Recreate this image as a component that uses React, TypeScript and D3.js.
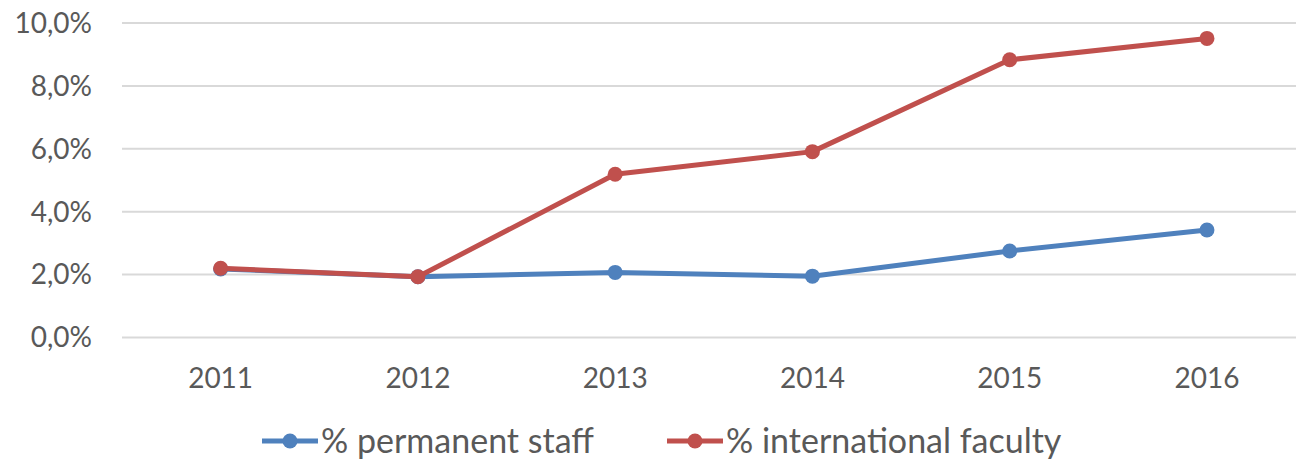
import { useEffect, useRef } from "react";
import * as d3 from "d3";

// Data
const years = ["2011", "2012", "2013", "2014", "2015", "2016"];
const permanentStaff = [2.18, 1.93, 2.07, 1.95, 2.75, 3.42];
const internationalFaculty = [2.2, 1.93, 5.19, 5.91, 8.83, 9.51];
const yTicks = [0, 2, 4, 6, 8, 10];

const seriesNames = ["% permanent staff", "% international faculty"];
const seriesColors = ["#4F81BD", "#C0504D"];

export default function App() {
	const ref = useRef<SVGSVGElement>(null);

	useEffect(() => {
		const svg = d3.select(ref.current);
		svg.selectAll("*").remove();

		const width = 1296;
		const margin = { top: 23, left: 122, bottom: 337.5 };
		const font = "Lato, 'Open Sans', sans-serif";
		const textColor = "#595959";

		// X scale (categorical years)
		const x = d3.scaleBand()
			.domain(years)
			.range([margin.left, 1305.6])
			.padding(0);

		// Y scale (percent)
		const y = d3.scaleLinear()
			.domain([0, 10])
			.range([margin.bottom, margin.top]);

		// Gridlines
		svg.append("g")
			.selectAll("line")
			.data(yTicks)
			.enter()
			.append("line")
			.attr("x1", margin.left)
			.attr("x2", width + 20)
			.attr("y1", d => y(d))
			.attr("y2", d => y(d))
			.attr("stroke", "#D9D9D9")
			.attr("stroke-width", 2);

		// Y tick labels
		svg.append("g")
			.selectAll("text")
			.data(yTicks)
			.enter()
			.append("text")
			.attr("x", 92)
			.attr("y", d => y(d))
			.attr("dy", "0.35em")
			.attr("text-anchor", "end")
			.attr("font-family", font)
			.attr("font-size", "28px")
			.attr("fill", textColor)
			.text(d => d.toFixed(1).replace(".", ",") + "%");

		// X tick labels
		svg.append("g")
			.selectAll("text")
			.data(years)
			.enter()
			.append("text")
			.attr("x", d => x(d)! + x.bandwidth() / 2)
			.attr("y", 388)
			.attr("text-anchor", "middle")
			.attr("font-family", font)
			.attr("font-size", "28px")
			.attr("fill", textColor)
			.text(d => d);

		const line = d3.line<number>()
			.x((_, i) => x(years[i])! + x.bandwidth() / 2)
			.y(d => y(d));

		// Series: lines + markers
		[permanentStaff, internationalFaculty].forEach((values, s) => {
			svg.append("path")
				.datum(values)
				.attr("d", line)
				.attr("fill", "none")
				.attr("stroke", seriesColors[s])
				.attr("stroke-width", 5)
				.attr("stroke-linejoin", "round")
				.attr("stroke-linecap", "round");

			svg.append("g")
				.selectAll("circle")
				.data(values)
				.enter()
				.append("circle")
				.attr("cx", (_, i) => x(years[i])! + x.bandwidth() / 2)
				.attr("cy", d => y(d))
				.attr("r", 7.5)
				.attr("fill", seriesColors[s]);
		});

		// Legend
		const legendX = [262, 667];
		const legendY = 441;
		seriesNames.forEach((name, s) => {
			const lg = svg.append("g")
				.attr("transform", `translate(${legendX[s]},${legendY})`);

			lg.append("line")
				.attr("x1", 0)
				.attr("x2", 56)
				.attr("stroke", seriesColors[s])
				.attr("stroke-width", 5);

			lg.append("circle")
				.attr("cx", 28)
				.attr("r", 7.5)
				.attr("fill", seriesColors[s]);

			lg.append("text")
				.attr("x", 59)
				.attr("dy", "0.35em")
				.attr("font-family", font)
				.attr("font-size", "34px")
				.attr("fill", textColor)
				.text(name);
		});
	}, []);

	return (
		<svg
			ref={ref}
			width={1296}
			height={461}
			style={{ position: "absolute", left: 0, top: 0, background: "#fff" }}
		/>
	);
}
